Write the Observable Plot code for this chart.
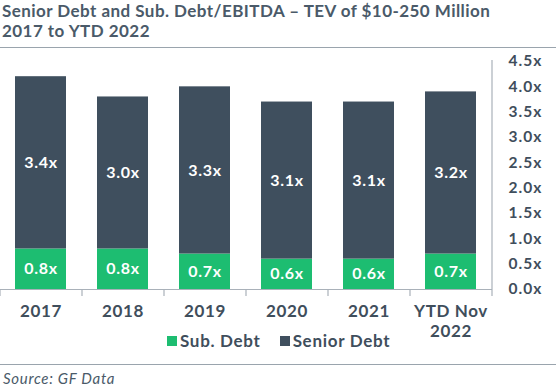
<!DOCTYPE html>
<html><head><meta charset="utf-8">
<script src="https://cdn.jsdelivr.net/npm/d3@7"></script>
<script src="https://cdn.jsdelivr.net/npm/@observablehq/plot@0.6"></script>
<style>
body{margin:0;background:#fff;font-family:Lato,sans-serif;color:#3f4e5c;}
#wrap{position:relative;width:556px;height:387px;overflow:hidden}
.title{position:absolute;left:2px;top:1px;font-size:17px;font-weight:bold;line-height:20px;color:#4a5a69;white-space:nowrap;letter-spacing:0.45px}
.rule{position:absolute;left:0;width:556px;height:0;border-top:1.5px solid #9aa4ad}
#chart{position:absolute;left:0;top:50px}
#chart g[aria-label="x-axis tick label"] text{letter-spacing:0.6px}
#chart g[aria-label="y-axis tick label"] text{letter-spacing:1px}
#chart g[aria-label="text"] text{letter-spacing:0.7px}
#legend{position:absolute;top:330px;left:167px;display:flex;align-items:center;font-size:17px;font-weight:bold;color:#3f4e5c;letter-spacing:0.7px}
#legend span.item{display:flex;align-items:center;margin-right:19px}
.sw{display:inline-block;width:10px;height:10px;margin-right:3px}
#source{position:absolute;left:3px;top:369px;font-size:15px;font-style:italic;color:#4a5a69;letter-spacing:0.7px}
</style>
</head><body>
<div id="wrap">
  <div class="title">Senior Debt and Sub. Debt/EBITDA – TEV of $10-250 Million<br>2017 to YTD 2022</div>
  <div class="rule" style="top:47px"></div>
  <div id="chart"></div>
  <div id="legend"></div>
  <div class="rule" style="top:364px"></div>
  <div id="source">Source: GF Data</div>
</div>
<script>
const categories = ["2017", "2018", "2019", "2020", "2021", "YTD Nov\n2022"];
const subDebt = [0.8, 0.8, 0.7, 0.6, 0.6, 0.7];
const seniorDebt = [3.4, 3.0, 3.3, 3.1, 3.1, 3.2];
const seriesNames = ["Sub. Debt", "Senior Debt"];
const seriesColors = ["#1dbd71", "#3f4f5e"];
const yTicks = [0, 0.5, 1, 1.5, 2, 2.5, 3, 3.5, 4, 4.5];

const rows = [];
categories.forEach((c, i) => {
  rows.push({cat: c, series: seriesNames[0], value: subDebt[i]});
  rows.push({cat: c, series: seriesNames[1], value: seniorDebt[i]});
});

const W = 556, H = 295, mL = 0, mR = 64, mT = 11, mB = 56;
const step = (W - mL - mR) / categories.length;
const axisColor = "#a9b1b9";
const textColor = "#3f4e5c";

const chart = Plot.plot({
  width: W, height: H,
  marginLeft: mL, marginRight: mR, marginTop: mT, marginBottom: mB,
  style: {fontFamily: "Lato, sans-serif", color: textColor, background: "white"},
  x: {domain: categories, paddingInner: 0.378, paddingOuter: 0.189, label: null},
  y: {domain: [0, 4.5], label: null},
  color: {domain: seriesNames, range: seriesColors},
  marks: [
    Plot.barY(rows, Plot.stackY({x: "cat", y: "value", z: "series", fill: "series"})),
    Plot.text(rows, Plot.stackY({x: "cat", y: "value", z: "series",
      text: d => d.value.toFixed(1) + "x", fill: "white", fontWeight: "bold", fontSize: 16})),
    Plot.ruleY([0], {stroke: axisColor, strokeWidth: 1.2}),
    Plot.ruleX(categories, {x: d => d, y1: 0, y2: 0, dx: -step / 2, insetBottom: -7, stroke: axisColor, strokeWidth: 1.2}),
    Plot.ruleX(categories.slice(-1), {x: d => d, dx: step / 2, insetTop: -1, insetBottom: -7, stroke: axisColor, strokeWidth: 1.2}),
    Plot.axisX({tickSize: 0, tickPadding: 14, fontSize: 17, fontWeight: "bold", fill: textColor, lineHeight: 1.15, label: null}),
    Plot.axisY({anchor: "right", ticks: yTicks, tickSize: 0, tickPadding: 16, tickFormat: d => d.toFixed(1) + "x",
      fontSize: 15.5, fontWeight: "bold", fill: textColor, label: null})
  ]
});
document.getElementById("chart").appendChild(chart);

const legend = document.getElementById("legend");
seriesNames.forEach((s, i) => {
  const item = document.createElement("span");
  item.className = "item";
  const sw = document.createElement("span");
  sw.className = "sw";
  sw.style.background = seriesColors[i];
  item.appendChild(sw);
  item.appendChild(document.createTextNode(s));
  legend.appendChild(item);
});
</script>
</body></html>
